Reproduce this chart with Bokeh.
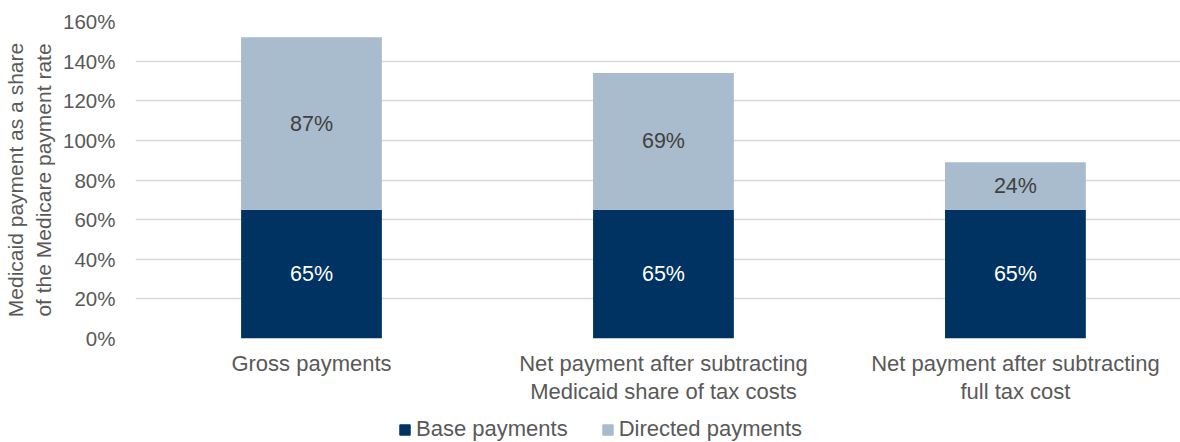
from bokeh.plotting import figure
from bokeh.models import (ColumnDataSource, Range1d, FixedTicker, Legend, LegendItem, LabelSet,
                          LinearAxis)
from bokeh.layouts import column
from bokeh.core.properties import value
from bokeh.embed import file_html
from bokeh.resources import INLINE

categories = ["Gross payments",
              "Net payment after subtracting\nMedicaid share of tax costs",
              "Net payment after subtracting\nfull tax cost"]
base = [65, 65, 65]
directed = [87, 69, 24]
y_ticks = [0, 20, 40, 60, 80, 100, 120, 140, 160]
series_names = ["Base payments", "Directed payments"]

FONT = "Liberation Sans"
BASE_C = "#003361"
DIR_C = "#a9bccd"
TXT_C = "#595959"

xs = list(range(len(categories)))
line1 = [c.split("\n")[0] for c in categories]
line2 = [(c.split("\n") + [""])[1] for c in categories]

src = ColumnDataSource(dict(
    x=xs, base=base, directed=directed,
    base_mid=[b / 2 for b in base],
    dir_mid=[b + d / 2 for b, d in zip(base, directed)],
    base_lbl=[f"{b}%" for b in base],
    dir_lbl=[f"{d}%" for d in directed],
))

MAIN_H = 412
LEG_H = 442 - MAIN_H

p = figure(width=1180, height=MAIN_H, x_range=Range1d(-0.5, 2.469), y_range=Range1d(0, 160),
           output_backend="svg", toolbar_location=None, title=None,
           min_border_left=135, min_border_right=0, min_border_top=21,
           min_border_bottom=MAIN_H - 338)
p.outline_line_color = None
p.background_fill_color = "white"

rs = p.vbar_stack(["base", "directed"], x="x", width=0.4, source=src,
                  color=[BASE_C, DIR_C], line_color=None)

p.add_layout(LabelSet(x="x", y="base_mid", text="base_lbl", source=src, text_align="center",
                      text_baseline="middle", text_color="white", text_font=value(FONT),
                      text_font_size="21.5px"))
p.add_layout(LabelSet(x="x", y="dir_mid", text="dir_lbl", source=src, text_align="center",
                      text_baseline="middle", text_color="#404040", text_font=value(FONT),
                      text_font_size="21.5px"))

p.xgrid.grid_line_color = None
p.ygrid.grid_line_color = "#d9d9d9"
p.ygrid.grid_line_width = 1.5
p.ygrid.ticker = FixedTicker(ticks=y_ticks)

ya = p.yaxis[0]
ya.ticker = FixedTicker(ticks=y_ticks)
ya.major_label_overrides = {t: f"{t}%" for t in y_ticks}
ya.axis_line_color = None
ya.major_tick_line_color = None
ya.minor_tick_line_color = None
ya.major_tick_out = 0
ya.major_tick_in = 0
ya.major_label_standoff = 20
ya.major_label_text_font = FONT
ya.major_label_text_font_size = "20.5px"
ya.major_label_text_color = TXT_C
ya.axis_label = "Medicaid payment as a share\nof the Medicare payment rate"
ya.axis_label_text_font = FONT
ya.axis_label_text_font_size = "21px"
ya.axis_label_text_font_style = "normal"
ya.axis_label_text_color = TXT_C
ya.axis_label_standoff = 5


def style_x(ax, labels, standoff):
    ax.ticker = FixedTicker(ticks=xs)
    ax.major_label_overrides = {x: c for x, c in zip(xs, labels)}
    ax.axis_line_color = None
    ax.major_tick_line_color = None
    ax.minor_tick_line_color = None
    ax.major_tick_out = 0
    ax.major_tick_in = 0
    ax.major_label_standoff = standoff
    ax.major_label_text_font = FONT
    ax.major_label_text_font_size = "22px"
    ax.major_label_text_color = TXT_C


style_x(p.xaxis[0], line1, 12)
xa2 = LinearAxis()
style_x(xa2, line2, 0)
p.add_layout(xa2, "below")

# legend strip (its swatch renderers sit outside the visible range)
lf = figure(width=1180, height=LEG_H, x_range=Range1d(0, 1), y_range=Range1d(0, 1),
            output_backend="svg", toolbar_location=None, title=None,
            min_border=0, min_border_left=0, min_border_right=0,
            min_border_top=0, min_border_bottom=0)
lf.axis.visible = False
lf.grid.visible = False
lf.outline_line_color = None
lr0 = lf.vbar(x=[5], top=[1], width=0.1, fill_color=BASE_C, line_color=BASE_C)
lr1 = lf.vbar(x=[5], top=[1], width=0.1, fill_color=DIR_C, line_color=DIR_C)
legend = Legend(items=[LegendItem(label=series_names[0], renderers=[lr0]),
                       LegendItem(label=series_names[1], renderers=[lr1])],
                orientation="horizontal", location=(263, 0),
                padding=0, margin=0, spacing=33, label_standoff=5,
                glyph_width=13, glyph_height=13,
                border_line_color=None, background_fill_alpha=0,
                label_text_font=FONT, label_text_font_size="22px",
                label_text_color=TXT_C)
lf.add_layout(legend, "center")

layout = column(p, lf, spacing=0)
open("out.html", "w").write(file_html(layout, INLINE))
